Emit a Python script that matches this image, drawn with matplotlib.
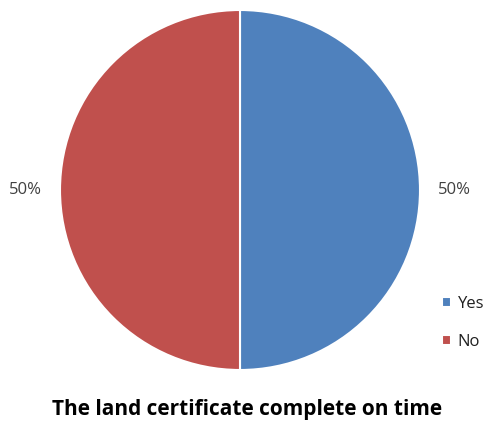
import matplotlib.pyplot as plt

labels = ['Yes', 'No']
shares = [50, 50]
colors = ['#4F81BD', '#C0504D']

fig = plt.figure(figsize=(4.92, 4.26), dpi=100)
ax = fig.add_axes([60 / 492, 56 / 426, 360 / 492, 360 / 426])

wedges, _, pct = ax.pie(
    shares, colors=colors, startangle=90, counterclock=False,
    autopct='%1.0f%%', pctdistance=1.19,
    wedgeprops=dict(edgecolor='white', linewidth=1.5),
    textprops=dict(fontsize=12, color='#404040', family='Open Sans'))
ax.set_xlim(-1, 1)
ax.set_ylim(-1, 1)
ax.set_aspect('equal')

fig.legend(wedges, labels, loc='center left',
           bbox_to_anchor=(427 / 492, 1 - 323 / 426),
           frameon=False, prop=dict(family='Open Sans', size=12),
           handlelength=0.55, handleheight=0.55, handletextpad=0.4,
           labelspacing=1.3, labelcolor='#202020')

fig.text(247 / 492, 1 - 410 / 426, 'The land certificate complete on time',
         ha='center', va='center', fontsize=15, fontweight='bold',
         family='Open Sans', color='black')

fig.savefig('out.png', dpi=100)
